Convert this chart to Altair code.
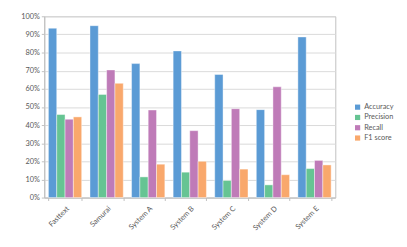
import altair as alt
import pandas as pd

systems = ["Fasttext", "Samurai", "System A", "System B", "System C", "System D", "System E"]
metrics = ["Accuracy", "Precision", "Recall", "F1 score"]
accuracy = [0.934, 0.948, 0.739, 0.809, 0.679, 0.485, 0.886]
precision = [0.458, 0.569, 0.114, 0.140, 0.094, 0.070, 0.160]
recall = [0.432, 0.704, 0.483, 0.369, 0.490, 0.611, 0.205]
f1 = [0.445, 0.630, 0.184, 0.200, 0.157, 0.126, 0.180]
colors = ["#5B9BD5", "#66C493", "#BF7BB8", "#F9A86C"]
y_ticks = [0, 0.1, 0.2, 0.3, 0.4, 0.5, 0.6, 0.7, 0.8, 0.9, 1.0]

rows = []
for i, s in enumerate(systems):
    for m, vals in zip(metrics, [accuracy, precision, recall, f1]):
        rows.append({"system": s, "metric": m, "value": vals[i]})
df = pd.DataFrame(rows)

font = "Lato"
chart = alt.Chart(df).mark_bar(stroke="white", strokeWidth=0.6, strokeOpacity=0.7).encode(
    x=alt.X("system:N", sort=systems, title=None,
            scale=alt.Scale(paddingInner=0.2, paddingOuter=0.1),
            axis=alt.Axis(labelAngle=-45, labelFontSize=7.5, labelColor="#595959", labelFont=font,
                          domainColor="#BFBFBF", tickColor="#BFBFBF", tickSize=3,
                          tickBand="extent", grid=False, labelPadding=4)),
    xOffset=alt.XOffset("metric:N", sort=metrics),
    y=alt.Y("value:Q", title=None,
            scale=alt.Scale(domain=[0, 1]),
            axis=alt.Axis(format=".0%", values=y_ticks, labelOverlap=False,
                          labelFontSize=7.5, labelColor="#595959", labelFont=font,
                          gridColor="#D9D9D9", domainColor="#BFBFBF", tickColor="#BFBFBF",
                          tickSize=3, labelPadding=2)),
    color=alt.Color("metric:N", sort=metrics,
                    scale=alt.Scale(domain=metrics, range=colors),
                    legend=alt.Legend(title=None, orient="none", legendX=316, legendY=89,
                                      symbolType="square", symbolSize=28, symbolStrokeWidth=0,
                                      labelFontSize=7.5, labelColor="#595959", labelFont=font,
                                      rowPadding=1.5, symbolOffset=0, labelOffset=3)),
).properties(
    width=297, height=185,
    autosize=alt.AutoSizeParams(type="none"),
    padding={"left": 37, "top": 6, "right": 65, "bottom": 48},
).configure_view(stroke="#BFBFBF", strokeWidth=1)

chart.save("out.html", embed_options={"renderer": "svg", "actions": False})
